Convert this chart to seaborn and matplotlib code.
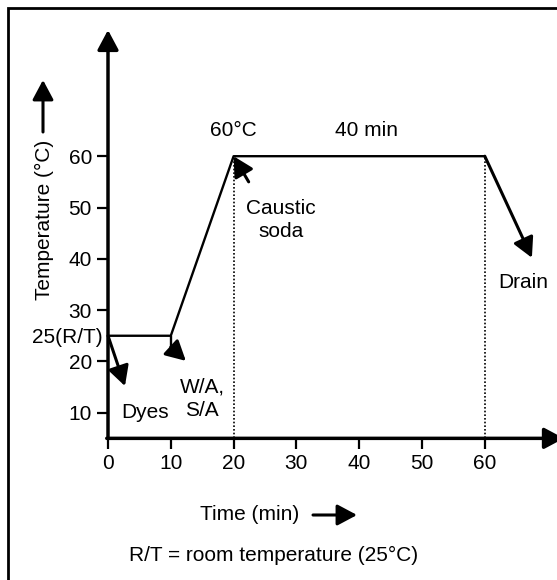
import matplotlib
matplotlib.use("Agg")
import matplotlib.pyplot as plt
from matplotlib.patches import Rectangle
import seaborn as sns
import pandas as pd

# dyeing temperature profile
time_min = [0, 10, 20, 60]
temp_c = [25, 25, 60, 60]

x_ticks = [0, 10, 20, 30, 40, 50, 60]
y_ticks = [10, 20, 30, 40, 50, 60]
rt_temp = 25
rt_label = "25(R/T)"
hold_times = [20, 60]
hold_temp = 60
axis_floor = 5
x_max, y_max = 72, 85

# annotation arrows (tail -> head) in data units
arrow_tail = [(0, 25), (10, 22.8), (22.4, 55), (60, 60)]
arrow_head = [(2.7, 15.2), (12.4, 20.1), (20, 60), (67.5, 40.2)]
stub_x = [10, 10]
stub_y = [25, 22.8]

notes = ["Dyes", "W/A,\nS/A", "Caustic\nsoda", "Drain", "60°C", "40 min"]
note_x = [5.9, 15.0, 27.5, 66.2, 19.9, 41.2]
note_y = [10.1, 12.7, 47.6, 35.3, 65.1, 65.1]

W, H = 557, 580
FS = 15

sns.set_theme(style="white")
plt.rcParams["font.family"] = ["Liberation Sans", "DejaVu Sans"]
plt.rcParams["text.color"] = "black"
plt.rcParams["xtick.color"] = "black"
plt.rcParams["ytick.color"] = "black"
plt.rcParams["xtick.labelcolor"] = "black"
plt.rcParams["ytick.labelcolor"] = "black"

fig = plt.figure(figsize=(W / 100, H / 100), dpi=100)
# axes placed so that x=0 -> 108px, y=5 -> 438px from top
ax = fig.add_axes([108 / W, (H - 438.35) / H, x_max * 6.28 / W, (y_max - axis_floor) * 5.13 / H])
ax.set_facecolor("none")

df = pd.DataFrame({"time": time_min, "temp": temp_c})
sns.lineplot(data=df, x="time", y="temp", sort=False, color="black", lw=1.7, ax=ax)
ax.plot(stub_x, stub_y, color="black", lw=1.7)
ax.vlines(hold_times, axis_floor, hold_temp, colors="black", lw=1.2, linestyles=(0, (1, 1.2)))

ax.set_xlim(0, x_max)
ax.set_ylim(axis_floor, y_max)
sns.despine(ax=ax, left=True, bottom=True, top=True, right=True)

ax.set_xticks(x_ticks)
ax.set_yticks(y_ticks)
ax.set_yticks([rt_temp], minor=True)
ax.set_yticklabels([rt_label], minor=True)
ax.tick_params(which="major", direction="out", length=8, width=1.6, color="black",
               labelcolor="black", labelsize=FS, pad=3.6, left=True, bottom=True)
ax.tick_params(which="minor", length=0, labelsize=FS, labelcolor="black", pad=3.6, left=True)
ax.set_xlabel("")
ax.set_ylabel("")

head = "-|>,head_length=0.6,head_width=0.32"
# axis lines with arrowheads
ax.annotate("", xy=(0, 84.6), xytext=(0, axis_floor),
            arrowprops=dict(arrowstyle=head, mutation_scale=20, lw=2.5, color="black",
                            shrinkA=0, shrinkB=0), annotation_clip=False)
ax.annotate("", xy=(72.6, axis_floor), xytext=(-0.2, axis_floor),
            arrowprops=dict(arrowstyle=head, mutation_scale=20, lw=2.5, color="black",
                            shrinkA=0, shrinkB=0), annotation_clip=False)

for t, h in zip(arrow_tail, arrow_head):
    ax.annotate("", xy=h, xytext=t,
                arrowprops=dict(arrowstyle=head, mutation_scale=20, lw=2.2, color="black",
                                shrinkA=0, shrinkB=0), annotation_clip=False)

for txt, x, y in zip(notes, note_x, note_y):
    ax.text(x, y, txt, fontsize=FS, color="black", ha="center", va="center", linespacing=1.3)

# axis titles with arrows
fig.text(44 / W, 1 - 219.5 / H, "Temperature (°C)", rotation=90, fontsize=FS,
         ha="center", va="center")
ax.annotate("", xy=(43 / W, 1 - 80 / H), xytext=(43 / W, 1 - 132 / H),
            xycoords="figure fraction", textcoords="figure fraction",
            arrowprops=dict(arrowstyle=head, mutation_scale=20, lw=2.2, color="black",
                            shrinkA=0, shrinkB=0))
fig.text(250 / W, 1 - 515 / H, "Time (min)", fontsize=FS, ha="center", va="center")
ax.annotate("", xy=(357 / W, 1 - 515 / H), xytext=(313 / W, 1 - 515 / H),
            xycoords="figure fraction", textcoords="figure fraction",
            arrowprops=dict(arrowstyle=head, mutation_scale=20, lw=2.2, color="black",
                            shrinkA=0, shrinkB=0))
fig.text(274 / W, 1 - 555 / H, "R/T = room temperature (25°C)", fontsize=FS,
         ha="center", va="center")

# frame (right and bottom edges fall outside the picture)
fig.add_artist(Rectangle((8 / W, -0.1), 1.2, 1.1 - 7.5 / H, transform=fig.transFigure,
                         fill=False, lw=2, ec="black"))

fig.savefig("out.png", dpi=100)
